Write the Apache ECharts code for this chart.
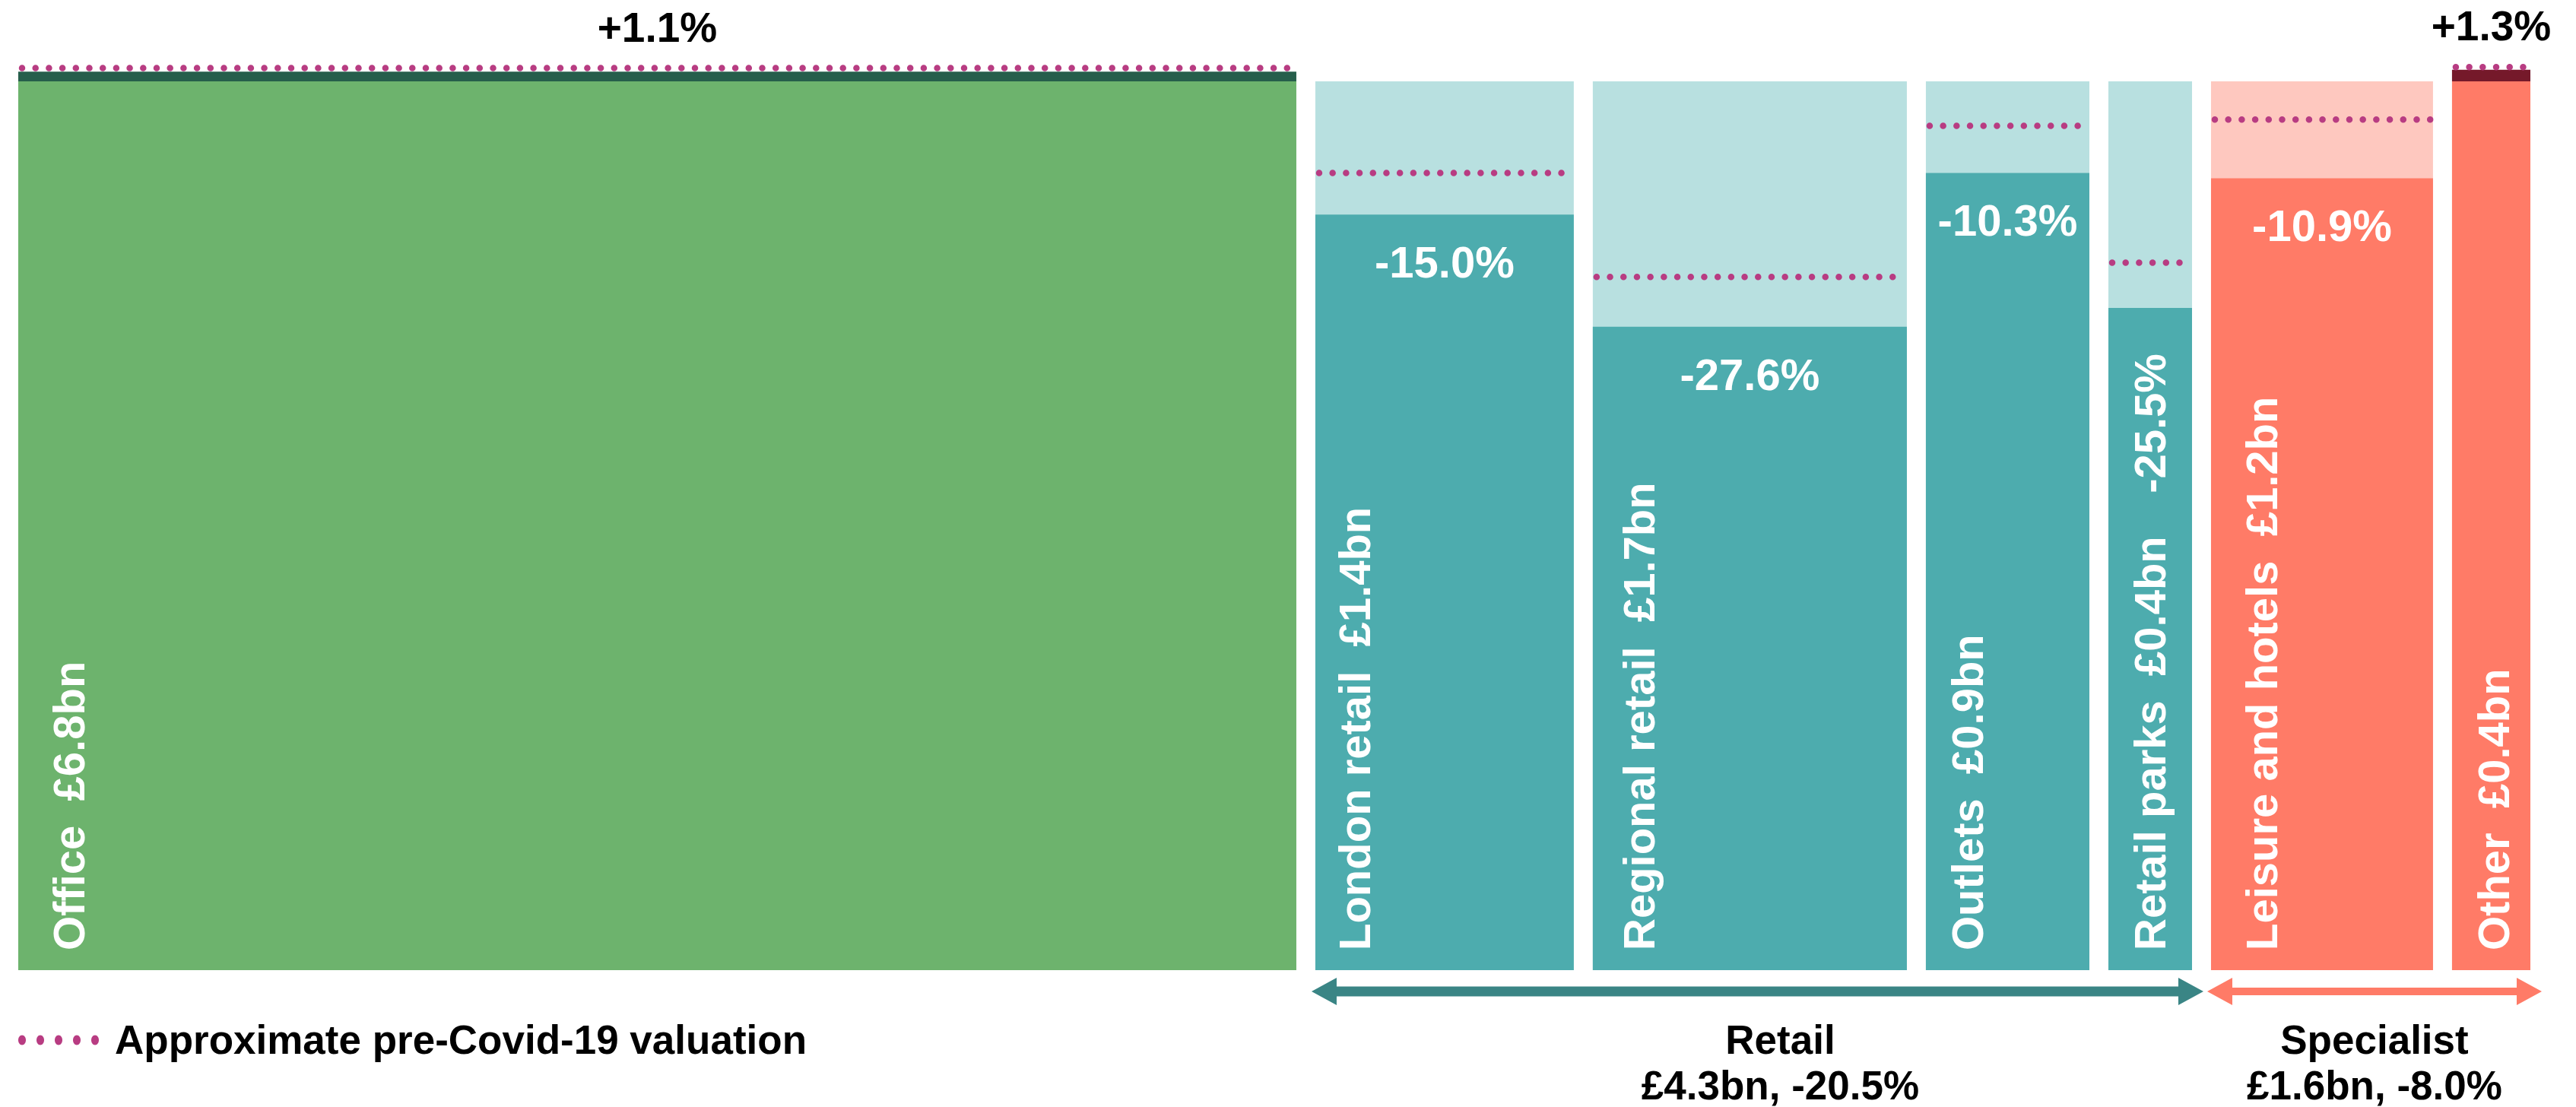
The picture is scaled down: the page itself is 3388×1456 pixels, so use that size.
<!DOCTYPE html>
<html>
<head>
<meta charset="utf-8">
<script src="https://cdn.jsdelivr.net/npm/echarts@6/dist/echarts.min.js"></script>
<style>
html,body{margin:0;padding:0;background:#ffffff;}
#chart{width:3388px;height:1456px;}
</style>
</head>
<body>
<div id="chart"></div>
<script>
// ---------- DATA ----------
const categories = ['Office', 'London retail', 'Regional retail', 'Outlets', 'Retail parks', 'Leisure and hotels', 'Other'];
const sizeLabels = ['£6.8bn', '£1.4bn', '£1.7bn', '£0.9bn', '£0.4bn', '£1.2bn', '£0.4bn'];
const sizeBn = [6.8, 1.375, 1.671, 0.870, 0.445, 1.181, 0.417];          // bar widths (£bn)
const changePct = [1.1, -15.0, -27.6, -10.3, -25.5, -10.9, 1.3];          // valuation change (%)
const preCovidIndex = [101.5, 89.7, 78.0, 95.0, 79.6, 95.7, 101.6];       // pre-Covid-19 valuation (index, 100 = prior)
const groupNames = ['Retail', 'Specialist'];
const groupSubtitles = ['£4.3bn, -20.5%', '£1.6bn, -8.0%'];
const groupFirst = [1, 5];
const groupLast = [4, 6];
const legendLabel = 'Approximate pre-Covid-19 valuation';

// ---------- STYLE ----------
const MAIN = ['#6db36d', '#4dacae', '#4dacae', '#4dacae', '#4dacae', '#ff7b67', '#ff7b67'];
const LIGHT = ['#cfe8cf', '#b8e0e0', '#b8e0e0', '#b8e0e0', '#b8e0e0', '#fec8bf', '#fec8bf'];
const BAND = ['#265e4b', '#265e4b', '#265e4b', '#265e4b', '#265e4b', '#75192a', '#75192a'];
const LABEL_INSET = [71, 56, 65, 59, 59, 71, 59];
const GROUP_COLOR = ['#3a8585', '#ff7b67'];
const GROUP_SHAFT = [13, 10];
const GROUP_TEXT_SHIFT = [30, 0];
const DOT = '#b83c82';
const FONT = '"Liberation Sans", Arial, sans-serif';
const GAP = 0.1011; // gap between bars in axis units

// ---------- derived layout (from data) ----------
const barStart = [], barEnd = [];
let acc = 0;
sizeBn.forEach((v, i) => {
  barStart.push(acc);
  barEnd.push(acc + v);
  acc += v + GAP;
});
const xMax = acc - GAP;

const barData = categories.map((c, i) => [barStart[i], barEnd[i], changePct[i], preCovidIndex[i]]);
const groupData = groupNames.map((g, k) => [barStart[groupFirst[k]], barEnd[groupLast[k]], k]);

function renderBar(params, api) {
  const i = params.dataIndex;
  const x0 = api.value(0), x1 = api.value(1), chg = api.value(2), pre = api.value(3);
  const pL = api.coord([x0, 0]);
  const pR = api.coord([x1, 0]);
  const left = pL[0], right = pR[0], base = pL[1];
  const w = right - left;
  const top100 = api.coord([x0, 100])[1];
  const topVal = api.coord([x0, 100 + chg])[1];
  const preY = api.coord([x0, pre])[1];
  const cx = (left + right) / 2;
  const ch = [];
  if (chg < 0) {
    ch.push({type: 'rect', shape: {x: left, y: top100, width: w, height: base - top100}, style: {fill: LIGHT[i]}});
    ch.push({type: 'rect', shape: {x: left, y: topVal, width: w, height: base - topVal}, style: {fill: MAIN[i]}});
  } else {
    ch.push({type: 'rect', shape: {x: left, y: top100, width: w, height: base - top100}, style: {fill: MAIN[i]}});
    ch.push({type: 'rect', shape: {x: left, y: topVal, width: w, height: top100 - topVal}, style: {fill: BAND[i]}});
  }
  // pre-Covid dotted line
  ch.push({type: 'line', shape: {x1: left + 5, y1: preY, x2: right - 2, y2: preY},
    style: {stroke: DOT, lineWidth: 8.5, lineCap: 'round', lineDash: [0.01, 17.69], fill: null}});
  const pctText = (chg > 0 ? '+' : '') + chg.toFixed(1) + '%';
  const lx = left + LABEL_INSET[i];
  if (chg > 0) {
    ch.push({type: 'text', x: cx, y: topVal - 54, style: {text: pctText, fill: '#000000',
      font: 'bold 55px ' + FONT, align: 'center', verticalAlign: 'middle'}});
  } else if (w < 150) {
    ch.push({type: 'text', x: lx, y: topVal + 60, rotation: Math.PI / 2, style: {text: pctText, fill: '#ffffff',
      font: 'bold 58px ' + FONT, align: 'right', verticalAlign: 'middle'}});
  } else {
    ch.push({type: 'text', x: cx, y: topVal + 67, style: {text: pctText, fill: '#ffffff',
      font: 'bold 58px ' + FONT, align: 'center', verticalAlign: 'middle'}});
  }
  // category label (rotated)
  ch.push({type: 'text', x: lx, y: base - 26, rotation: Math.PI / 2, style: {
    text: categories[i] + '  ' + sizeLabels[i], fill: '#ffffff',
    font: 'bold 58px ' + FONT, align: 'left', verticalAlign: 'middle'}});
  return {type: 'group', children: ch};
}

function renderGroup(params, api) {
  const k = api.value(2);
  const p0 = api.coord([api.value(0), 0]);
  const p1 = api.coord([api.value(1), 0]);
  const x0 = p0[0] - 5, x1 = p1[0] + 15, yc = p0[1] + 28;
  const L = 33, H = 36, t = GROUP_SHAFT[k];
  const pts = [
    [x0, yc], [x0 + L, yc - H / 2], [x0 + L, yc - t / 2], [x1 - L, yc - t / 2], [x1 - L, yc - H / 2],
    [x1, yc], [x1 - L, yc + H / 2], [x1 - L, yc + t / 2], [x0 + L, yc + t / 2], [x0 + L, yc + H / 2]
  ];
  const tx = (x0 + x1) / 2 + GROUP_TEXT_SHIFT[k];
  return {type: 'group', children: [
    {type: 'polygon', shape: {points: pts}, style: {fill: GROUP_COLOR[k]}},
    {type: 'text', x: tx, y: p0[1] + 95, style: {text: groupNames[k], fill: '#000000',
      font: 'bold 53px ' + FONT, align: 'center', verticalAlign: 'middle'}},
    {type: 'text', x: tx, y: p0[1] + 155, style: {text: groupSubtitles[k], fill: '#000000',
      font: 'bold 53px ' + FONT, align: 'center', verticalAlign: 'middle'}}
  ]};
}

const legendDots = [29, 53, 77, 101, 125].map(x => ({type: 'ellipse', shape: {cx: x, cy: 1368, rx: 5, ry: 6.5}, style: {fill: DOT}}));

const chart = echarts.init(document.getElementById('chart'), null, {renderer: 'canvas'});
chart.setOption({
  animation: false,
  backgroundColor: '#ffffff',
  grid: {left: 24, right: 60, top: 107, bottom: 180},
  xAxis: {type: 'value', min: 0, max: xMax, show: false},
  yAxis: {type: 'value', min: 0, max: 100, show: false},
  series: [
    {type: 'custom', name: 'Sectors', renderItem: renderBar, data: barData, clip: false,
      encode: {x: [0, 1], y: 3}},
    {type: 'custom', name: 'Groups', renderItem: renderGroup, data: groupData, clip: false,
      encode: {x: [0, 1]}}
  ],
  graphic: legendDots.concat([
    {type: 'text', x: 151, y: 1371, style: {text: legendLabel, fill: '#000000',
      font: 'bold 53px ' + FONT, verticalAlign: 'middle'}}
  ])
});
</script>
</body>
</html>
